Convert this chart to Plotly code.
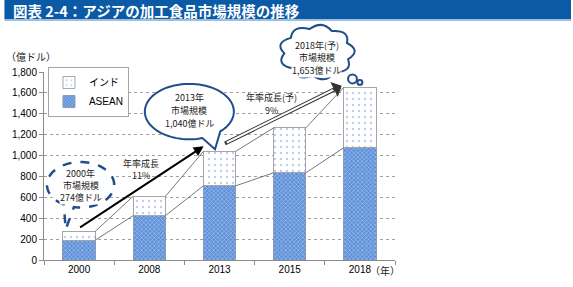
import numpy as np
import plotly.graph_objects as go

# ---- data ----
years = ["2000", "2008", "2013", "2015", "2018"]
asean = [190, 425, 710, 835, 1075]
india = [84, 185, 330, 430, 578]
yticks = [0, 200, 400, 600, 800, 1000, 1200, 1400, 1600, 1800]

totals = [a + b for a, b in zip(asean, india)]
xs = list(range(len(years)))

W, H = 573, 287
L, R, T, B = 40, 395, 72, 262  # plot area in pixels
BARGAP = 0.54
bw = 1 - BARGAP

FONT = "Liberation Sans, Arial, Noto Sans CJK JP, sans-serif"
JFONT = "Noto Sans CJK JP, sans-serif"
DARKBLUE = "#1f4e8c"


def P(x, y):
    return (x - L) / (R - L), (B - y) / (B - T)


fig = go.Figure()

fig.add_trace(go.Bar(
    x=xs, y=asean, name="ASEAN",
    marker=dict(color="#5d8fd9", line=dict(color="#8a9bb3", width=1),
                pattern=dict(shape="x", fgcolor="#ffffff", bgcolor="#5d8fd9",
                             size=3, solidity=0.35)),
))
fig.add_trace(go.Bar(
    x=xs, y=india, name="インド",
    marker=dict(color="#ffffff", line=dict(color="#a6a6a6", width=1),
                pattern=dict(shape=".", fgcolor="#7b9ed8", bgcolor="#ffffff",
                             size=6, solidity=0.12)),
))

# series lines connecting bar tops
for vals in (asean, totals):
    lx, ly = [], []
    for i in range(len(xs) - 1):
        lx += [xs[i] + bw / 2, xs[i + 1] - bw / 2, None]
        ly += [vals[i], vals[i + 1], None]
    fig.add_trace(go.Scatter(x=lx, y=ly, mode="lines", showlegend=False,
                             hoverinfo="skip",
                             line=dict(color="#555555", width=0.8)))

shapes = []
ann = []

# title bar
x0, _ = P(0, 0)
x1, _ = P(W, 0)
_, yt = P(0, 0)
_, yb = P(0, 18.5)
_, yb2 = P(0, 20.5)
shapes.append(dict(type="rect", xref="paper", yref="paper", x0=x0, x1=x1,
                   y0=yb, y1=yt + 0.01, fillcolor="#0b5aa5", line=dict(width=0),
                   layer="above"))
shapes.append(dict(type="rect", xref="paper", yref="paper", x0=x0, x1=x1,
                   y0=yb2, y1=yb, fillcolor="#9dbfe2", line=dict(width=0),
                   layer="above"))
tx, ty = P(7, 9.5)
ann.append(dict(xref="paper", yref="paper", x=tx, y=ty, xanchor="left",
                yanchor="middle", showarrow=False,
                text="<b>図表 2-4：アジアの加工食品市場規模の推移</b>",
                font=dict(family=JFONT, size=14.5, color="white")))


def to_path(pts, close=True):
    s = ""
    for k, (px, py) in enumerate(pts):
        ux, uy = P(px, py)
        s += ("M" if k == 0 else "L") + f"{ux:.5f},{uy:.5f} "
    if close:
        s += "Z"
    return s


def bubble(cx, cy, rx, ry, t_start, t_end, tip):
    ts = np.radians(np.linspace(t_start, t_end, 90))
    pts = [(cx + rx * np.cos(t), cy + ry * np.sin(t)) for t in ts]
    pts.append(tip)
    return to_path(pts)


# callout 1 (dashed)
shapes.append(dict(type="path", xref="paper", yref="paper",
                   path=bubble(77, 186, 34, 23, 120, 101.5 + 360, (62, 231)),
                   fillcolor="white", line=dict(color=DARKBLUE, width=2.5, dash="dash"),
                   layer="above"))
# callout 2 (speech bubble)
shapes.append(dict(type="path", xref="paper", yref="paper",
                   path=bubble(187, 112, 45, 28, 73, 46 + 360, (213, 150)),
                   fillcolor="white", line=dict(color=DARKBLUE, width=2),
                   layer="above"))
# callout 3 (cloud)
cx, cy, rx, ry = 316, 52, 33, 24
N = 9
angs = np.radians(np.linspace(0, 360, N + 1)) + 0.3
path = ""
for k in range(N + 1):
    a = angs[k]
    px, py = cx + rx * np.cos(a), cy + ry * np.sin(a)
    ux, uy = P(px, py)
    if k == 0:
        path += f"M{ux:.5f},{uy:.5f} "
    else:
        am = (angs[k] + angs[k - 1]) / 2
        qx, qy = cx + rx * 1.38 * np.cos(am), cy + ry * 1.38 * np.sin(am)
        qux, quy = P(qx, qy)
        path += f"Q{qux:.5f},{quy:.5f} {ux:.5f},{uy:.5f} "
path += "Z"
shapes.append(dict(type="path", xref="paper", yref="paper", path=path,
                   fillcolor="white", line=dict(color=DARKBLUE, width=2),
                   layer="above"))
for (ccx, ccy, r) in [(352, 79, 4.5), (359.5, 82.5, 2.5)]:
    a0, b0 = P(ccx - r, ccy + r)
    a1, b1 = P(ccx + r, ccy - r)
    shapes.append(dict(type="circle", xref="paper", yref="paper",
                       x0=a0, y0=b0, x1=a1, y1=b1, fillcolor="white",
                       line=dict(color=DARKBLUE, width=2), layer="above"))


def ptext(x, y, text, size=9, anchor="center", bg=None):
    ux, uy = P(x, y)
    d = dict(xref="paper", yref="paper", x=ux, y=uy, xanchor=anchor,
             yanchor="middle", showarrow=False, text=text, borderpad=0,
             font=dict(family=JFONT, size=size, color="#222222"))
    if bg:
        d["bgcolor"] = bg
    ann.append(d)


def lines(x, y0, texts, step=13, bg="white"):
    for k, t in enumerate(texts):
        ptext(x, y0 + k * step, t, bg=bg)


lines(77, 175, ["2000年", "市場規模", "274億ドル"], step=12)
lines(187, 98, ["2013年", "市場規模", "1,040億ドル"])
lines(316, 45, ["2018年(予)", "市場規模", "1,653億ドル"], step=12.5)
lines(138, 164, ["年率成長", "11%"], step=12.5, bg=None)
lines(270, 98, ["年率成長(予)", "9%"], step=13, bg=None)
ptext(27, 56, "（億ドル）", size=10)
ptext(369, 273, "（年）", size=10, anchor="left")


def pxd(x, y):
    return (x - L) / ((R - L) / len(xs)) - 0.5, (B - y) / (B - T) * 1800


# black arrow 2000 -> 2013
hx, hy = pxd(201.5, 147)
tx_, ty_ = pxd(75, 230)
ann.append(dict(x=hx, y=hy, ax=tx_, ay=ty_, xref="x", yref="y", axref="x",
                ayref="y", text="", showarrow=True, arrowhead=2, arrowsize=1,
                arrowwidth=2, arrowcolor="black", standoff=0))
# hollow arrow 2013 -> 2018
hx2, hy2 = pxd(341, 86)
tx2, ty2 = pxd(221.5, 145)
ann.append(dict(x=hx2, y=hy2, ax=tx2, ay=ty2, xref="x", yref="y", axref="x",
                ayref="y", text="", showarrow=True, arrowhead=1, arrowsize=0.7,
                arrowwidth=4, arrowcolor="#333333", standoff=0))
f0, f1 = 0.015, 0.93
ann.append(dict(x=tx2 + (hx2 - tx2) * f1, y=ty2 + (hy2 - ty2) * f1,
                ax=tx2 + (hx2 - tx2) * f0, ay=ty2 + (hy2 - ty2) * f0,
                xref="x", yref="y", axref="x", ayref="y", text="",
                showarrow=True, arrowhead=0, arrowwidth=2,
                arrowcolor="white", standoff=0))

fig.update_layout(
    width=W, height=H,
    margin=dict(l=L, r=W - R, t=T, b=H - B, pad=0),
    paper_bgcolor="white", plot_bgcolor="white",
    barmode="stack", bargap=BARGAP,
    font=dict(family=FONT, size=10, color="#000000"),
    showlegend=True,
    legend=dict(x=P(44, 0)[0], y=P(0, 67)[1], xanchor="left", yanchor="top",
                bordercolor="#a6a6a6", borderwidth=1, bgcolor="white",
                traceorder="reversed", font=dict(family=FONT, size=10),
                itemwidth=30, tracegroupgap=0),
    shapes=shapes, annotations=ann,
    xaxis=dict(range=[-0.5, len(xs) - 0.5], tickvals=xs, ticktext=years,
               showgrid=False, showline=True, linecolor="#8c8c8c", linewidth=1,
               ticks="", tickfont=dict(size=10),
               minor=dict(tickvals=[i - 0.5 for i in range(len(xs) + 1)],
                          ticks="outside", ticklen=4, tickcolor="#8c8c8c"),
               zeroline=False, fixedrange=True),
    yaxis=dict(range=[0, 1800], tickvals=yticks, tickformat=",",
               showgrid=True, gridcolor="#a0a0a0", griddash="dot", gridwidth=1,
               showline=True, linecolor="#8c8c8c", linewidth=1,
               ticks="outside", ticklen=4, tickcolor="#8c8c8c",
               tickfont=dict(size=10), zeroline=False, fixedrange=True),
)

fig.write_html("out.html")
